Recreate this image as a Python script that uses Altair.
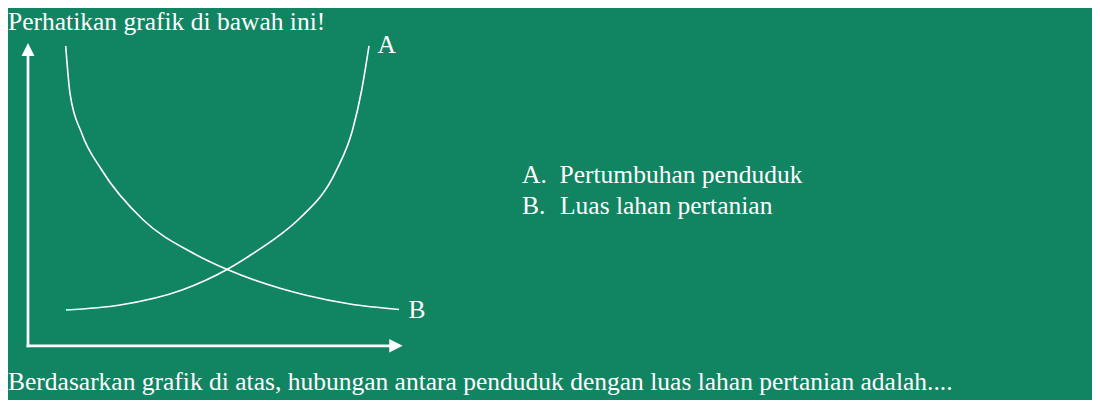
import altair as alt
import pandas as pd

# ---- texts ----
title_text = ["Perhatikan grafik di bawah ini!"]
question_text = ["Berdasarkan grafik di atas, hubungan antara penduduk dengan luas lahan pertanian adalah...."]
legend_letters = ["A.", "B."]
legend_names = ["Pertumbuhan penduduk", "Luas lahan pertanian"]
curve_names = ["A", "B"]

# ---- curve A (rising) ----
a_x = [10.14, 24.55, 41.10, 53.11, 60.05, 67.25, 72.32, 82.33, 86.60, 89.06, 91.01]
a_y = [11.82, 13.47, 18.43, 25.20, 30.48, 36.63, 41.88, 57.99, 71.20, 84.48, 99.01]

# ---- curve B (falling) ----
b_x = [10.06, 11.21, 14.33, 19.67, 30.77, 44.12, 53.03, 67.25, 73.93, 85.93, 99.01]
b_y = [99.01, 83.39, 70.18, 58.06, 41.55, 30.55, 25.26, 18.99, 16.78, 13.80, 11.99]

curves = pd.DataFrame({
    "series": [curve_names[0]] * len(a_x) + [curve_names[1]] * len(b_x),
    "order": list(range(len(a_x))) + list(range(len(b_x))),
    "x": a_x + b_x,
    "y": a_y + b_y,
})

BG = "#118462"
FG = "white"
FONT = "'Liberation Serif', 'Times New Roman', Times, serif"
FS = 25.5

xs = alt.Scale(domain=[0, 100], range=[20, 394.7])
ys = alt.Scale(domain=[0, 100], range=[337.8, 35])

one = pd.DataFrame({"k": [0]})

lines = alt.Chart(curves).mark_line(
    interpolate="monotone", color=FG, strokeWidth=1.6
).encode(
    x=alt.X("x:Q", scale=xs, axis=None),
    y=alt.Y("y:Q", scale=ys, axis=None),
    detail="series:N",
    order="order:Q",
)

y_axis = alt.Chart(one).transform_calculate(
    px="0", py0="0", py1="96.5"
).mark_rule(color=FG, strokeWidth=2.7, strokeCap="square").encode(
    x=alt.X("px:Q", scale=xs, axis=None),
    y=alt.Y("py0:Q", scale=ys, axis=None),
    y2="py1:Q",
)
x_axis = alt.Chart(one).transform_calculate(
    px0="0", px1="96.8", py="0"
).mark_rule(color=FG, strokeWidth=2.8, strokeCap="square").encode(
    x=alt.X("px0:Q", scale=xs, axis=None),
    x2="px1:Q",
    y=alt.Y("py:Q", scale=ys, axis=None),
)
y_arrow = alt.Chart(one).transform_calculate(
    px="0", py="97.85"
).mark_point(
    shape="M0,-1L1,1L-1,1Z", filled=True, size=169, color=FG, opacity=1, strokeWidth=0
).encode(
    x=alt.X("px:Q", scale=xs, axis=None),
    y=alt.Y("py:Q", scale=ys, axis=None),
)
x_arrow = alt.Chart(one).transform_calculate(
    px="98.2", py="0"
).mark_point(
    shape="M1,0L-1,-1L-1,1Z", filled=True, size=180, color=FG, opacity=1, strokeWidth=0
).encode(
    x=alt.X("px:Q", scale=xs, axis=None),
    y=alt.Y("py:Q", scale=ys, axis=None),
)


def text_layer(values, px, py):
    df = pd.DataFrame({"t": values})
    return alt.Chart(df).mark_text(
        font=FONT, fontSize=FS, color=FG, align="left", baseline="alphabetic"
    ).encode(text="t:N", x=alt.value(px), y=alt.value(py))


title = text_layer(title_text, 0, 22)
question = text_layer(question_text, 0, 382)
label_a = text_layer([curve_names[0]], 369.5, 44.7)
label_b = text_layer([curve_names[1]], 400.5, 310)
leg_a_letter = text_layer([legend_letters[0]], 514, 175.3)
leg_a_name = text_layer([legend_names[0]], 551.5, 175.3)
leg_b_letter = text_layer([legend_letters[1]], 514, 206.3)
leg_b_name = text_layer([legend_names[1]], 552, 206.3)

chart = alt.layer(
    y_axis, x_axis, y_arrow, x_arrow, lines,
    title, question, label_a, label_b,
    leg_a_letter, leg_a_name, leg_b_letter, leg_b_name,
).properties(
    width=1084, height=392, background=BG,
    autosize=alt.AutoSizeParams(type="none"), padding=0,
).configure_view(stroke=None)

chart.save("out.html", embed_options={"renderer": "svg", "actions": False})
